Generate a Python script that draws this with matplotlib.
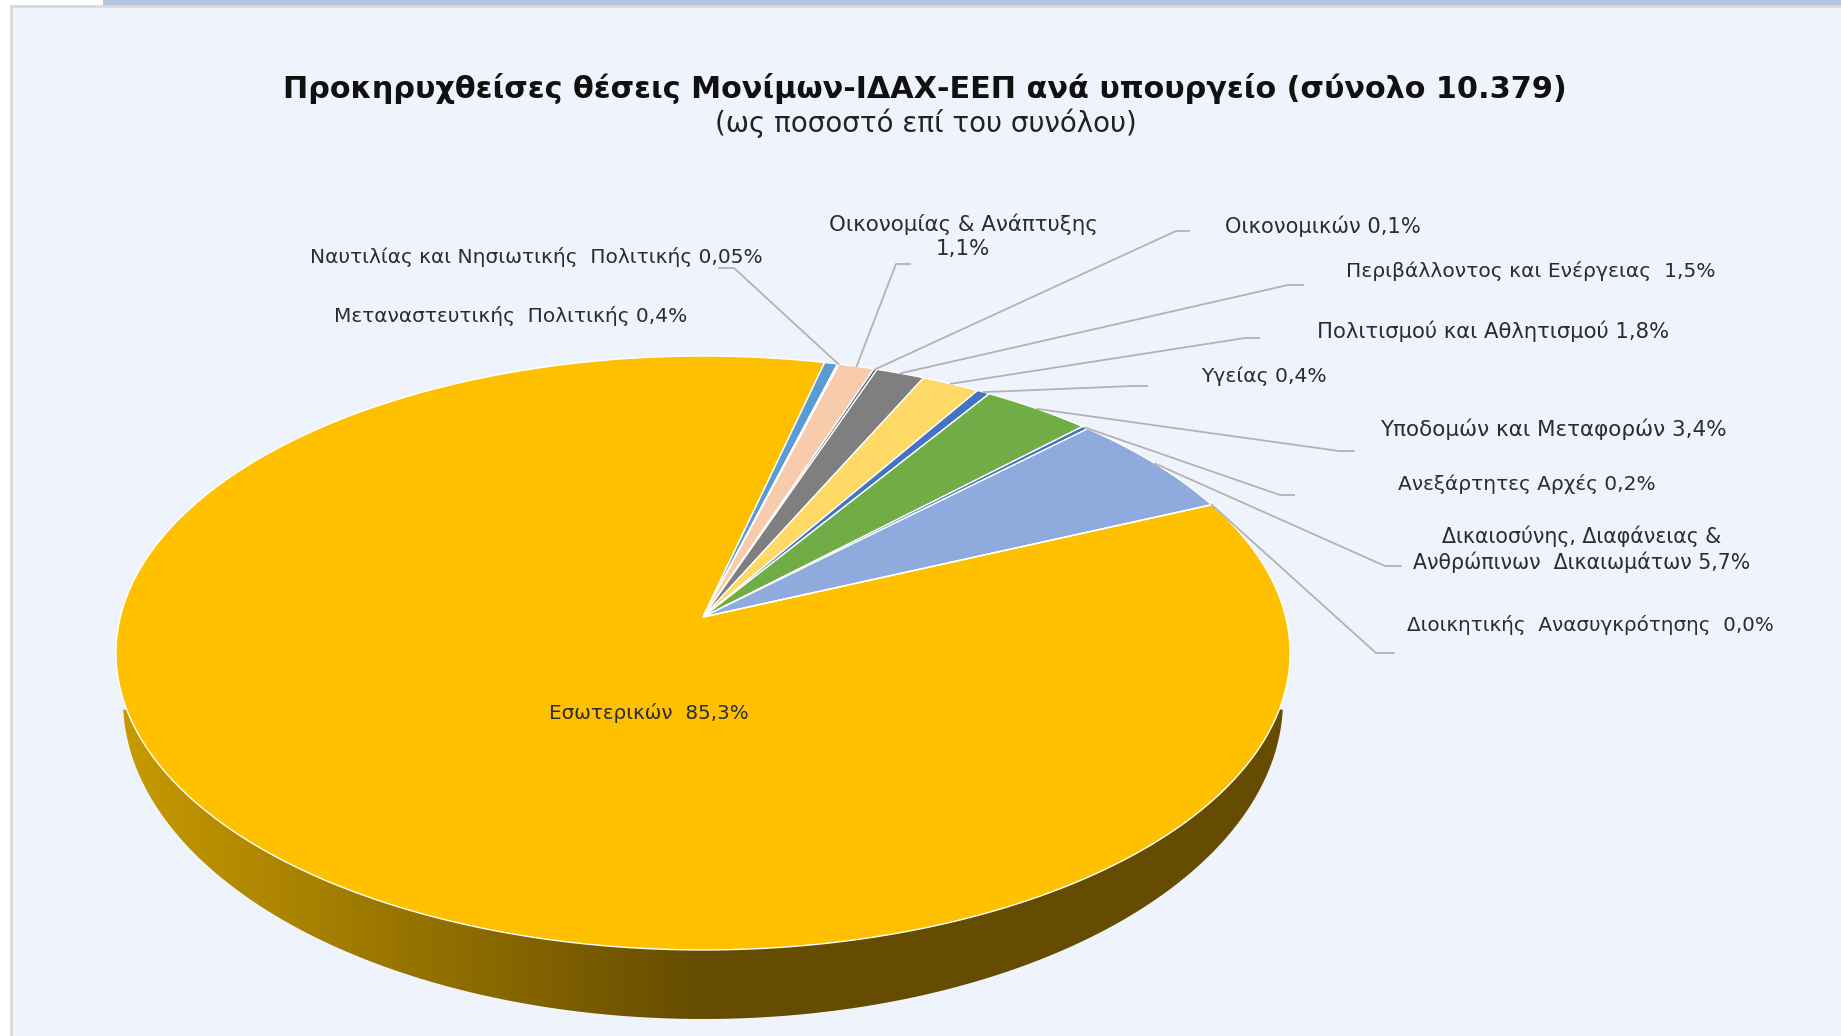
import numpy as np
import matplotlib
matplotlib.use("Agg")
import matplotlib.pyplot as plt
from matplotlib.patches import Polygon, Rectangle

WIDTH, HEIGHT = 1841, 1036

# Data: share of posts per ministry, clockwise from the main slice
labels = ["Εσωτερικών", "Μεταναστευτικής Πολιτικής", "Ναυτιλίας και Νησιωτικής Πολιτικής",
          "Οικονομίας & Ανάπτυξης", "Οικονομικών", "Περιβάλλοντος και Ενέργειας",
          "Πολιτισμού και Αθλητισμού", "Υγείας", "Υποδομών και Μεταφορών",
          "Ανεξάρτητες Αρχές", "Δικαιοσύνης, Διαφάνειας & Ανθρώπινων Δικαιωμάτων",
          "Διοικητικής Ανασυγκρότησης"]
values = [85.3, 0.4, 0.05, 1.1, 0.1, 1.5, 1.8, 0.4, 3.4, 0.2, 5.7, 0.0]
colors = ["#FFC000", "#5B9BD5", "#A5A5A5", "#F8CBAD", "#44546A", "#7F7F7F",
          "#FFD966", "#4472C4", "#70AD47", "#4472C4", "#8FAADC", "#C55A11"]

label_texts = ["Εσωτερικών  85,3%", "Μεταναστευτικής  Πολιτικής 0,4%",
               "Ναυτιλίας και Νησιωτικής  Πολιτικής 0,05%",
               "Οικονομίας & Ανάπτυξης\n1,1%", "Οικονομικών 0,1%",
               "Περιβάλλοντος και Ενέργειας  1,5%", "Πολιτισμού και Αθλητισμού 1,8%",
               "Υγείας 0,4%", "Υποδομών και Μεταφορών 3,4%", "Ανεξάρτητες Αρχές 0,2%",
               "Δικαιοσύνης, Διαφάνειας &\nΑνθρώπινων  Δικαιωμάτων 5,7%",
               "Διοικητικής  Ανασυγκρότησης  0,0%"]
label_pos = [(649, 713), (511, 316), (536, 257), (963, 236), (1323, 226), (1531, 271),
             (1493, 331), (1264, 376), (1553, 429), (1527, 484), (1582, 549), (1590, 625)]
label_sizes = [14.3, 14.5, 14.5, 15.4, 15.1, 14.6, 15.2, 14.6, 15.5, 14.5, 14.8, 14.3]
# leader knee and end, None where the original has no line
leaders = [None, None, ((734, 268), (719, 268)), ((896, 264), (910, 264)),
           ((1176, 231), (1189, 231)), ((1288, 285), (1303, 285)), ((1245, 338), (1259, 338)),
           ((1133, 386), (1147, 386)), ((1339, 451), (1354, 451)), ((1280, 495), (1294, 495)),
           ((1385, 566), (1401, 566)), ((1376, 653), (1394, 653))]

# projection of the tilted disc, apex of the slices and perspective
APEX_X, APEX_Y = 703, 617
K = 0.1212
A, B = 582.7, 292.6
START_DEG = 13.5


def project(theta):
    # theta is clockwise from the back of the disc, in radians
    u, v = np.sin(theta), np.cos(theta)
    w = 1 + K * v
    return APEX_X + A * u / w, APEX_Y - B * v / w


fig = plt.figure(figsize=(WIDTH / 100, HEIGHT / 100), dpi=100, facecolor="white")
ax = fig.add_axes([0, 0, 1, 1])

# panel background
ax.add_patch(Rectangle((103, 0), WIDTH - 103, 7, fc="#B4C7E1", ec="none", zorder=1))
ax.add_patch(Rectangle((11, 6), WIDTH, HEIGHT, fc="#EFF4FC", ec="#D9D9D9", lw=2, zorder=1))

# side wall: lower rim of the disc, with a horizontal gradient
t = np.linspace(0.03, np.pi - 0.03, 400)
wall = np.column_stack([703 + 580 * np.cos(t), 700 + 319 * np.sin(t)])
wall_clip = Polygon(wall, closed=True, transform=ax.transData, fc="none", ec="none")
ax.add_patch(wall_clip)
stops = np.array([[0.0, 200, 155, 0], [0.5, 101, 76, 0], [1.0, 101, 76, 0]])
grad_x = np.linspace(0, 1, 600)
grad = np.column_stack([np.interp(grad_x, stops[:, 0], stops[:, i]) for i in (1, 2, 3)]) / 255
img = ax.imshow(grad[np.newaxis, :, :], extent=[116, 1290, HEIGHT, 0], aspect="auto", zorder=2)
img.set_clip_path(wall_clip)
ax.set_xlim(0, WIDTH)
ax.set_ylim(HEIGHT, 0)
ax.axis("off")

# slices
fracs = np.array(values) / sum(values)
# main slice runs from the end of the small ones round to START_DEG
edges = np.cumsum(fracs[1:]) * 2 * np.pi
start = np.deg2rad(START_DEG)
bounds = np.concatenate([[start], start + edges])
spans = [(bounds[-1], start + 2 * np.pi)] + [(bounds[i], bounds[i + 1]) for i in range(len(bounds) - 1)]
mids = []
for (a0, a1), col in zip(spans, colors):
    arc = np.linspace(a0, a1, max(3, int((a1 - a0) * 200)))
    px, py = project(arc)
    pts = np.vstack([[APEX_X, APEX_Y], np.column_stack([px, py])])
    ax.add_patch(Polygon(pts, closed=True, fc=col, ec="white", lw=1.0, joinstyle="miter", zorder=3))
    mids.append((a0 + a1) / 2)

# leader lines
for mid, lead in zip(mids, leaders):
    if lead is None:
        continue
    sx, sy = project(mid)
    ax.plot([sx, lead[0][0], lead[1][0]], [sy, lead[0][1], lead[1][1]],
            color="#B2B2B2", lw=1.3, zorder=4, solid_joinstyle="round")

# labels
for txt, (x, y), size in zip(label_texts, label_pos, label_sizes):
    ax.text(x, y, txt, ha="center", va="center", fontsize=size, color="#2A2B36",
            family="DejaVu Sans", linespacing=1.25, zorder=5)

ax.text(925, 89, "Προκηρυχθείσες θέσεις Μονίμων-ΙΔΑΧ-ΕΕΠ ανά υπουργείο (σύνολο 10.379)",
        ha="center", va="center", fontsize=21.8, fontweight="bold", color="#111111", zorder=5)
ax.text(926, 123, "(ως ποσοστό επί του συνόλου)", ha="center", va="center",
        fontsize=20, color="#222222", zorder=5)

fig.savefig("out.png", dpi=100, facecolor="white")
plt.close(fig)
